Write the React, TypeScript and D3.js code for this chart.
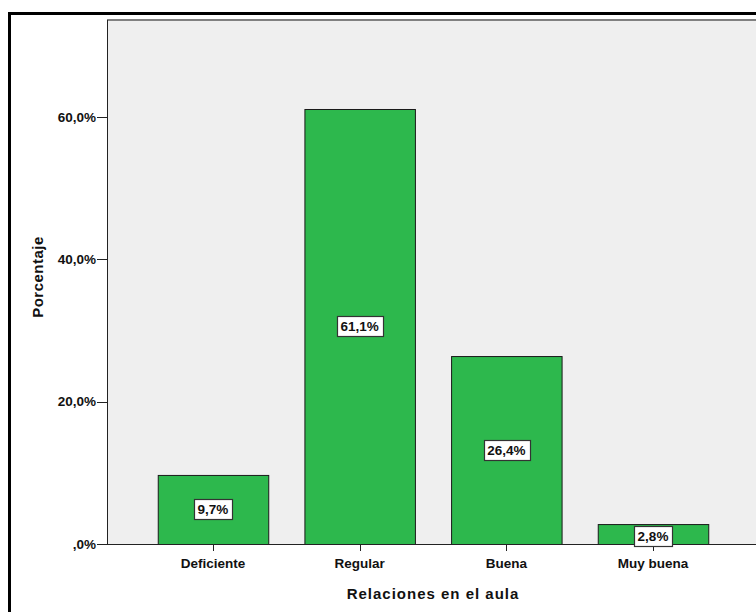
import React from "react";
import * as d3 from "d3";

const categories = ["Deficiente", "Regular", "Buena", "Muy buena"];
const values = [9.7, 61.1, 26.4, 2.8];
const valueLabels = ["9,7%", "61,1%", "26,4%", "2,8%"];
const yTicks = [0, 20, 40, 60];
const yTickLabels = [",0%", "20,0%", "40,0%", "60,0%"];
const xTitle = "Relaciones en el aula";
const yTitle = "Porcentaje";

const W = 756;
const H = 612;
const plotLeft = 107;
const plotRight = 759;
const plotTop = 20;
const plotBottom = 544;

export default function App() {
  const y = d3.scaleLinear().domain([0, 73.6]).range([plotBottom, plotTop]);
  const x = d3
    .scaleBand<string>()
    .domain(categories)
    .range([plotLeft, plotRight])
    .paddingInner(0.2466)
    .paddingOuter(0.346);
  const bw = x.bandwidth();
  const font = "Arial, 'Liberation Sans', sans-serif";
  const boxH = 20;

  return (
    <svg
      width={W}
      height={H}
      style={{ position: "absolute", left: 0, top: 0, background: "#fff" }}
      fontFamily={font}
    >
      {/* outer frame */}
      <rect x={9.5} y={13.5} width={900} height={800} fill="none" stroke="#000" strokeWidth={3} />
      {/* plot background */}
      <rect x={plotLeft} y={plotTop} width={plotRight - plotLeft} height={plotBottom - plotTop} fill="#efefef" />
      <line x1={plotLeft} x2={plotRight} y1={plotTop} y2={plotTop} stroke="#808080" strokeWidth={2} />
      <line x1={plotLeft + 0.5} x2={plotLeft + 0.5} y1={plotTop} y2={plotBottom} stroke="#222" strokeWidth={1} />

      {/* bars */}
      {categories.map((c, i) => {
        const x0 = x(c)!;
        const yt = y(values[i]);
        return (
          <rect
            key={c}
            x={x0 + 0.5}
            y={yt + 0.5}
            width={bw}
            height={plotBottom - yt}
            fill="#2db84d"
            stroke="#1a1a1a"
            strokeWidth={1}
          />
        );
      })}

      {/* axis line */}
      <line x1={plotLeft} x2={plotRight} y1={plotBottom + 0.5} y2={plotBottom + 0.5} stroke="#222" strokeWidth={1} />

      {/* y ticks */}
      {yTicks.map((t, i) => (
        <g key={t}>
          <line x1={plotLeft - 10} x2={plotLeft} y1={Math.round(y(t)) + 0.5} y2={Math.round(y(t)) + 0.5} stroke="#222" />
          <text
            x={96}
            y={y(t)}
            dy="0.35em"
            textAnchor="end"
            fontSize={13.5}
            fontWeight="bold"
            fill="#111"
          >
            {yTickLabels[i]}
          </text>
        </g>
      ))}

      {/* x ticks and labels */}
      {categories.map((c) => {
        const cx = x(c)! + bw / 2;
        return (
          <g key={c}>
            <line x1={Math.round(cx) + 0.5} x2={Math.round(cx) + 0.5} y1={plotBottom} y2={plotBottom + 7} stroke="#222" />
            <text x={cx} y={568} textAnchor="middle" fontSize={13.5} fontWeight="bold" fill="#111">
              {c}
            </text>
          </g>
        );
      })}

      {/* value labels */}
      {categories.map((c, i) => {
        const cx = x(c)! + bw / 2;
        const yt = y(values[i]);
        const barH = plotBottom - yt;
        let cy = (yt + plotBottom) / 2;
        if (barH < boxH) cy = yt + boxH / 2 + 2;
        const label = valueLabels[i];
        const tw = label.length * 7.3 + 1;
        const bwBox = tw + 8;
        return (
          <g key={c}>
            <rect
              x={Math.round(cx - bwBox / 2) + 0.5}
              y={Math.round(cy - boxH / 2) + 0.5}
              width={Math.round(bwBox)}
              height={boxH}
              fill="#fff"
              stroke="#333"
              strokeWidth={1.2}
            />
            <text x={cx} y={cy} dy="0.36em" textAnchor="middle" fontSize={13.5} fontWeight="bold" fill="#111">
              {label}
            </text>
          </g>
        );
      })}

      {/* axis titles */}
      <text
        x={(plotLeft + plotRight) / 2 - 0}
        y={599}
        textAnchor="middle"
        fontSize={15}
        fontWeight="bold"
        letterSpacing={1}
        fill="#111"
      >
        {xTitle}
      </text>
      <text
        transform={`translate(43, 277) rotate(-90)`}
        textAnchor="middle"
        fontSize={15}
        fontWeight="bold"
        letterSpacing={0.5}
        fill="#111"
      >
        {yTitle}
      </text>
    </svg>
  );
}
